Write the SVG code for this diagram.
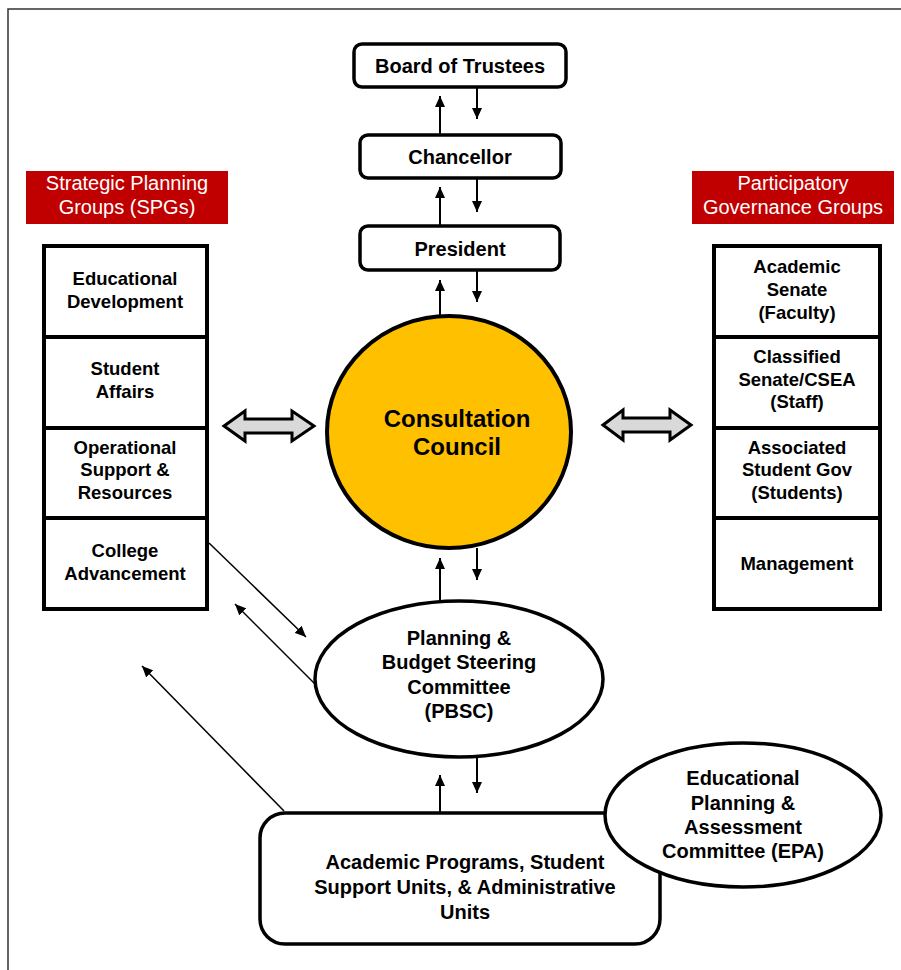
<svg xmlns="http://www.w3.org/2000/svg" width="901" height="970" viewBox="0 0 901 970">
<style>
.t{font-family:"Liberation Sans",Arial,sans-serif;font-weight:bold;fill:#000;text-anchor:middle}
.t20{font-size:20px}
.t18{font-size:18.5px}
.lbl{font-family:"Liberation Sans",Arial,sans-serif;font-size:20px;fill:#fff;text-anchor:middle}
.box{fill:#fff;stroke:#000;stroke-width:3.5}
.col{fill:#fff;stroke:#000;stroke-width:4}
.red{fill:#C00000}
.ln{stroke:#000;stroke-width:2;fill:none}
.dg{stroke:#000;stroke-width:1.5;fill:none}
.dbl{fill:#D9D9D9;stroke:#000;stroke-width:3;stroke-linejoin:miter}
</style>
<defs>
<marker id="ah" markerUnits="userSpaceOnUse" markerWidth="11" markerHeight="10" refX="11" refY="5" orient="auto">
<path d="M0,0 L11,5 L0,10 z" fill="#000"/>
</marker>
</defs>
<rect x="8" y="9" width="900" height="970" fill="#fff" stroke="#333" stroke-width="1.5"/>

<g id="connectors">
<line class="ln" x1="440" y1="134" x2="440" y2="96" marker-end="url(#ah)"/>
<line class="ln" x1="477" y1="87" x2="477" y2="119" marker-end="url(#ah)"/>
<line class="ln" x1="440" y1="225" x2="440" y2="187" marker-end="url(#ah)"/>
<line class="ln" x1="477" y1="178" x2="477" y2="212" marker-end="url(#ah)"/>
<line class="ln" x1="440" y1="317" x2="440" y2="280" marker-end="url(#ah)"/>
<line class="ln" x1="477" y1="270" x2="477" y2="302" marker-end="url(#ah)"/>
<line class="ln" x1="440" y1="601" x2="440" y2="558" marker-end="url(#ah)"/>
<line class="ln" x1="477" y1="548" x2="477" y2="580" marker-end="url(#ah)"/>
<line class="ln" x1="440" y1="813" x2="440" y2="775" marker-end="url(#ah)"/>
<line class="ln" x1="477" y1="757" x2="477" y2="793" marker-end="url(#ah)"/>
<line class="dg" x1="209" y1="543" x2="306" y2="637" marker-end="url(#ah)"/>
<line class="dg" x1="315" y1="684" x2="235" y2="604" marker-end="url(#ah)"/>
<line class="dg" x1="284" y1="811" x2="142" y2="666" marker-end="url(#ah)"/>
<path class="dbl" d="M224,426 L245,411 L245,419 L292,419 L292,411 L314,426 L292,441 L292,433 L245,433 L245,441 Z"/>
<path class="dbl" d="M603,425 L623,410 L623,418 L670,418 L670,410 L691,425 L670,440 L670,432 L623,432 L623,440 Z"/>
</g>

<g id="board">
<rect class="box" x="354" y="44" width="212" height="43" rx="8"/>
<text class="t t20" x="460" y="73">Board of Trustees</text>
</g>
<g id="chancellor">
<rect class="box" x="360" y="135" width="201" height="43" rx="8"/>
<text class="t t20" x="460" y="164">Chancellor</text>
</g>
<g id="president">
<rect class="box" x="360" y="226" width="200" height="44" rx="8"/>
<text class="t t20" x="460" y="256">President</text>
</g>

<g id="consultation">
<ellipse cx="449" cy="432" rx="122" ry="116" fill="#FFC000" stroke="#000" stroke-width="4"/>
<text class="t" font-size="24" x="457" y="427">Consultation</text>
<text class="t" font-size="24" x="457" y="455">Council</text>
</g>

<g id="pbsc">
<ellipse cx="459" cy="679" rx="144" ry="78" fill="#fff" stroke="#000" stroke-width="3.5"/>
<text class="t t20" x="459" y="645">Planning &amp;</text>
<text class="t t20" x="459" y="669">Budget Steering</text>
<text class="t t20" x="459" y="694">Committee</text>
<text class="t t20" x="459" y="718">(PBSC)</text>
</g>

<g id="units">
<rect class="box" x="260" y="813" width="400" height="131" rx="25"/>
<text class="t t20" x="465" y="869">Academic Programs, Student</text>
<text class="t t20" x="465" y="894">Support Units, &amp; Administrative</text>
<text class="t t20" x="465" y="919">Units</text>
</g>

<g id="epa">
<ellipse cx="743" cy="815" rx="138" ry="72" fill="#fff" stroke="#000" stroke-width="3.5"/>
<text class="t t20" x="743" y="785">Educational</text>
<text class="t t20" x="743" y="810">Planning &amp;</text>
<text class="t t20" x="743" y="834">Assessment</text>
<text class="t t20" x="743" y="858">Committee (EPA)</text>
</g>

<g id="spg-label">
<rect class="red" x="26" y="171" width="202" height="53"/>
<text class="lbl" x="127" y="190">Strategic Planning</text>
<text class="lbl" x="127" y="214">Groups (SPGs)</text>
</g>
<g id="pgg-label">
<rect class="red" x="692" y="171" width="202" height="53"/>
<text class="lbl" x="793" y="190">Participatory</text>
<text class="lbl" x="793" y="214">Governance Groups</text>
</g>

<g id="spg-educational">
<rect class="col" x="44" y="246" width="163" height="91"/>
<text class="t t18" x="125" y="285">Educational</text>
<text class="t t18" x="125" y="308">Development</text>
</g>
<g id="spg-student">
<rect class="col" x="44" y="337" width="163" height="91"/>
<text class="t t18" x="125" y="375">Student</text>
<text class="t t18" x="125" y="398">Affairs</text>
</g>
<g id="spg-operational">
<rect class="col" x="44" y="428" width="163" height="90"/>
<text class="t t18" x="125" y="454">Operational</text>
<text class="t t18" x="125" y="476">Support &amp;</text>
<text class="t t18" x="125" y="499">Resources</text>
</g>
<g id="spg-college">
<rect class="col" x="44" y="518" width="163" height="91"/>
<text class="t t18" x="125" y="557">College</text>
<text class="t t18" x="125" y="580">Advancement</text>
</g>

<g id="pgg-academic">
<rect class="col" x="714" y="246" width="166" height="91"/>
<text class="t t18" x="797" y="273">Academic</text>
<text class="t t18" x="797" y="296">Senate</text>
<text class="t t18" x="797" y="319">(Faculty)</text>
</g>
<g id="pgg-classified">
<rect class="col" x="714" y="337" width="166" height="91"/>
<text class="t t18" x="797" y="363">Classified</text>
<text class="t t18" x="797" y="386">Senate/CSEA</text>
<text class="t t18" x="797" y="408">(Staff)</text>
</g>
<g id="pgg-associated">
<rect class="col" x="714" y="428" width="166" height="90"/>
<text class="t t18" x="797" y="454">Associated</text>
<text class="t t18" x="797" y="476">Student Gov</text>
<text class="t t18" x="797" y="499">(Students)</text>
</g>
<g id="pgg-management">
<rect class="col" x="714" y="518" width="166" height="91"/>
<text class="t t18" x="797" y="570">Management</text>
</g>
</svg>
